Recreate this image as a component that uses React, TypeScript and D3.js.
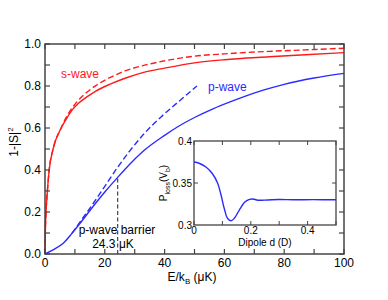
import React from 'react';
import * as d3 from 'd3';

// main panel: 1-|S|^2 vs E/kB (uK)
const sSolidE = [0, 0.1, 0.35, 0.8, 1.4, 2.7, 5.4, 7, 9.3, 11, 14, 17, 22, 27, 33, 40, 50, 60, 75, 87, 100];
const sSolidV = [0, 0.1, 0.2, 0.3, 0.4, 0.5, 0.6, 0.64, 0.69, 0.715, 0.748, 0.776, 0.81, 0.838, 0.865, 0.885, 0.91, 0.925, 0.939, 0.949, 0.959];
const sDashE = [0, 0.1, 0.35, 0.8, 1.4, 2.7, 5.4, 7, 9.3, 11, 14, 17, 22, 27, 33, 40, 50, 60, 75, 87, 100];
const sDashV = [0, 0.1, 0.2, 0.3, 0.4, 0.5, 0.6, 0.648, 0.7, 0.73, 0.77, 0.802, 0.842, 0.873, 0.898, 0.92, 0.942, 0.953, 0.965, 0.972, 0.98];
const pSolidE = [0, 2.7, 6, 9, 12.2, 16, 20, 24.3, 29, 33.3, 40, 44.4, 50, 56, 63, 73, 80, 90, 100];
const pSolidV = [0, 0.02, 0.05, 0.098, 0.155, 0.225, 0.295, 0.365, 0.437, 0.495, 0.565, 0.606, 0.65, 0.69, 0.73, 0.78, 0.808, 0.838, 0.86];
const pDashE = [9, 12, 16, 20, 24.3, 28.3, 33.3, 38.9, 44.4, 50.8];
const pDashV = [0.098, 0.158, 0.238, 0.322, 0.413, 0.49, 0.575, 0.654, 0.722, 0.8];
const barrierE = 24.3;
const barrierV = 0.365;

const xTicks = d3.range(0, 101, 10);
const xLabels = [0, 20, 40, 60, 80, 100];
const yTicks = d3.range(0, 1.001, 0.1);
const yLabels = [0, 0.2, 0.4, 0.6, 0.8, 1.0];

// inset: P_loss vs dipole d
const insetD = [0, 0.018, 0.042, 0.065, 0.083, 0.095, 0.107, 0.118, 0.13, 0.142, 0.16, 0.178, 0.195, 0.207, 0.225, 0.26, 0.3, 0.35, 0.42, 0.5];
const insetV = [0.375, 0.3735, 0.369, 0.361, 0.35, 0.336, 0.319, 0.308, 0.305, 0.308, 0.318, 0.327, 0.3305, 0.331, 0.3295, 0.3298, 0.3303, 0.33, 0.3302, 0.33];
const insetXTicks = [0, 0.1, 0.2, 0.3, 0.4, 0.5];
const insetXLabels = [0, 0.2, 0.4];
const insetYLabels = [0.3, 0.35, 0.4];

const RED = '#ff1a1a';
const BLUE = '#2a2aff';
const FRAME = '#444';
const FONT = 'Liberation Sans, Arial, Helvetica, sans-serif';

const zip = (xs: number[], ys: number[]) => xs.map((x, i) => [x, ys[i]] as [number, number]);

const App = () => {
  const x = d3.scaleLinear().domain([0, 100]).range([45, 344]);
  const y = d3.scaleLinear().domain([0, 1]).range([254, 44]);
  const ix = d3.scaleLinear().domain([0, 0.5]).range([194, 336]);
  const iy = d3.scaleLinear().domain([0.3, 0.4]).range([225, 141]);

  const line = d3
    .line<[number, number]>()
    .x((d) => x(d[0]))
    .y((d) => y(d[1]))
    .curve(d3.curveMonotoneX);
  const iline = d3
    .line<[number, number]>()
    .x((d) => ix(d[0]))
    .y((d) => iy(d[1]))
    .curve(d3.curveCatmullRom);

  const [x0, x1] = x.range();
  const [y0, y1] = y.range();
  const [ix0, ix1] = ix.range();
  const [iy0, iy1] = iy.range();
  const fmt = d3.format('.1f');

  return (
    <svg
      width={388}
      height={300}
      style={{ position: 'fixed', left: 0, top: 0, background: '#fff' }}
      fontFamily={FONT}
    >
      {/* curves */}
      <path d={line(zip(sDashE, sDashV)) || ''} fill="none" stroke={RED} strokeWidth={1.4} strokeDasharray="6,3" />
      <path d={line(zip(sSolidE, sSolidV)) || ''} fill="none" stroke={RED} strokeWidth={1.4} />
      <path d={line(zip(pDashE, pDashV)) || ''} fill="none" stroke={BLUE} strokeWidth={1.4} strokeDasharray="6,3" />
      <path d={line(zip(pSolidE, pSolidV)) || ''} fill="none" stroke={BLUE} strokeWidth={1.4} />
      <line
        x1={x(barrierE)}
        x2={x(barrierE)}
        y1={y(0)}
        y2={y(barrierV)}
        stroke="#444"
        strokeWidth={1.2}
        strokeDasharray="4,2.5"
      />

      {/* main frame + ticks */}
      <rect x={x0} y={y1} width={x1 - x0} height={y0 - y1} fill="none" stroke={FRAME} strokeWidth={1.5} />
      {xTicks.map((t) => (
        <g key={'xt' + t} stroke={FRAME} strokeWidth={1.2}>
          <line x1={x(t)} x2={x(t)} y1={y0} y2={y0 - 5} />
          <line x1={x(t)} x2={x(t)} y1={y1} y2={y1 + 5} />
        </g>
      ))}
      {yTicks.map((t) => (
        <g key={'yt' + t} stroke={FRAME} strokeWidth={1.2}>
          <line x1={x0} x2={x0 + 5} y1={y(t)} y2={y(t)} />
          <line x1={x1} x2={x1 - 5} y1={y(t)} y2={y(t)} />
        </g>
      ))}
      {xLabels.map((t) => (
        <text key={'xl' + t} x={x(t)} y={267} textAnchor="middle" fontSize={12}>
          {t}
        </text>
      ))}
      {yLabels.map((t) => (
        <text key={'yl' + t} x={41} y={y(t) + 4.3} textAnchor="end" fontSize={12}>
          {fmt(t)}
        </text>
      ))}
      <text x={192} y={281} textAnchor="middle" fontSize={12}>
        E/k<tspan fontSize={8} dy={3}>B</tspan>
        <tspan dy={-3}> (μK)</tspan>
      </text>
      <text transform="translate(18,142) rotate(-90)" textAnchor="middle" fontSize={12}>
        1-|S|<tspan fontSize={8} dy={-5}>2</tspan>
      </text>

      {/* annotations */}
      <text x={61} y={77.5} fontSize={12} fill={RED}>s-wave</text>
      <text x={208} y={91} fontSize={12} fill={BLUE}>p-wave</text>
      <text x={117} y={234} fontSize={12} textAnchor="middle">p-wave barrier</text>
      <text x={113} y={247.5} fontSize={12} textAnchor="middle">24.3 μK</text>

      {/* inset */}
      <rect x={ix0} y={iy1} width={ix1 - ix0} height={iy0 - iy1} fill="#fff" stroke={FRAME} strokeWidth={1.3} />
      <path d={iline(zip(insetD, insetV)) || ''} fill="none" stroke={BLUE} strokeWidth={1.4} />
      {insetXTicks.map((t) => (
        <g key={'ixt' + t} stroke={FRAME} strokeWidth={1}>
          <line x1={ix(t)} x2={ix(t)} y1={iy0} y2={iy0 - 4} />
          <line x1={ix(t)} x2={ix(t)} y1={iy1} y2={iy1 + 4} />
        </g>
      ))}
      <g stroke={FRAME} strokeWidth={1}>
        <line x1={ix0} x2={ix0 + 4} y1={iy(0.35)} y2={iy(0.35)} />
        <line x1={ix1} x2={ix1 - 4} y1={iy(0.35)} y2={iy(0.35)} />
      </g>
      {insetXLabels.map((t) => (
        <text key={'ixl' + t} x={ix(t)} y={234} textAnchor="middle" fontSize={10}>
          {t}
        </text>
      ))}
      {insetYLabels.map((t) => (
        <text key={'iyl' + t} x={ix0 - 2} y={iy(t) + 3.5} textAnchor="end" fontSize={10}>
          {t}
        </text>
      ))}
      <text x={(ix0 + ix1) / 2} y={246} textAnchor="middle" fontSize={10}>
        Dipole d (D)
      </text>
      <text transform={`translate(167,${(iy0 + iy1) / 2}) rotate(-90)`} textAnchor="middle" fontSize={10}>
        P<tspan fontSize={7} dy={2.5}>loss</tspan>
        <tspan dy={-2.5}>(V</tspan>
        <tspan fontSize={7} dy={2.5}>b</tspan>
        <tspan dy={-2.5}>)</tspan>
      </text>
    </svg>
  );
};

export default App;
